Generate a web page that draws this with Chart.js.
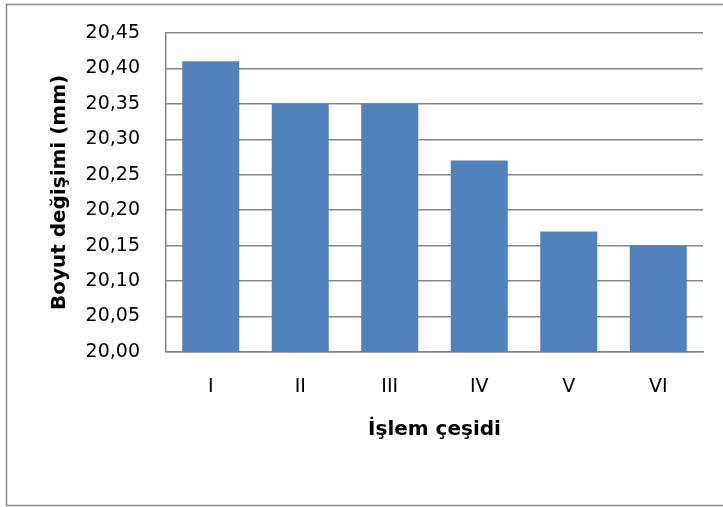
<!DOCTYPE html>
<html>
<head>
<meta charset="utf-8">
<script src="https://cdn.jsdelivr.net/npm/chart.js@4"></script>
<style>
  html, body { margin: 0; padding: 0; background: #fff; }
  #wrap { width: 723px; height: 507px; }
</style>
</head>
<body>
<div id="wrap"><canvas id="boyutChart" width="723" height="507"></canvas></div>
<script>
// Chart values
const categories = ['I', 'II', 'III', 'IV', 'V', 'VI'];
const boyutValues = [20.41, 20.35, 20.35, 20.27, 20.17, 20.15];
const yTicks = [20.00, 20.05, 20.10, 20.15, 20.20, 20.25, 20.30, 20.35, 20.40, 20.45];

const xTitle = 'İşlem çeşidi';
const yTitle = 'Boyut değişimi (mm)';

// outer frame like the Excel chart border (right side is cut off in the original)
const framePlugin = {
    id: 'frame',
    afterDraw(chart) {
        const ctx = chart.ctx;
        ctx.save();
        ctx.strokeStyle = '#868686';
        ctx.lineWidth = 1.5;
        ctx.beginPath();
        ctx.moveTo(chart.width + 2, 4.5);
        ctx.lineTo(6.5, 4.5);
        ctx.lineTo(6.5, 505.5);
        ctx.lineTo(chart.width + 2, 505.5);
        ctx.stroke();
        ctx.restore();
    }
};

const ctx = document.getElementById('boyutChart').getContext('2d');
new Chart(ctx, {
    type: 'bar',
    data: {
        labels: categories,
        datasets: [{
            label: 'Boyut değişimi',
            data: boyutValues,
            backgroundColor: '#4F81BD',
            borderWidth: 0,
            barPercentage: 0.637,
            categoryPercentage: 1.0
        }]
    },
    options: {
        responsive: false,
        animation: false,
        layout: {
            padding: { left: 0, top: 33, right: 20, bottom: 0 }
        },
        plugins: {
            legend: { display: false },
            tooltip: { enabled: false }
        },
        scales: {
            x: {
                grid: { display: false, drawTicks: false },
                border: { display: true, color: '#868686', width: 1.5 },
                ticks: {
                    color: '#000',
                    padding: 24,
                    font: { family: 'DejaVu Sans', size: 19 }
                },
                title: {
                    display: true,
                    text: xTitle,
                    color: '#000',
                    padding: { top: 0, bottom: 65 },
                    font: { family: 'DejaVu Sans', size: 20, weight: 'bold', lineHeight: 1.2 }
                },
                afterFit(scale) {
                    scale.height = 155;
                }
            },
            y: {
                min: 20.00,
                max: 20.45,
                afterBuildTicks(scale) {
                    scale.ticks = yTicks.map(v => ({ value: v }));
                },
                grid: { color: '#868686', lineWidth: 1.5, drawTicks: false },
                border: { display: true, color: '#868686', width: 1.5 },
                ticks: {
                    color: '#000',
                    padding: 26,
                    font: { family: 'DejaVu Sans', size: 19 },
                    callback: function(value) {
                        return Number(value).toFixed(2).replace('.', ','); // Turkish decimal comma
                    }
                },
                title: {
                    display: true,
                    text: yTitle,
                    color: '#000',
                    padding: { top: 48, bottom: 0 },
                    font: { family: 'DejaVu Sans', size: 20, weight: 'bold', lineHeight: 1.2 }
                },
                afterFit(scale) {
                    scale.width = 166;
                    // tick padding would otherwise push the plot top down
                    scale.paddingTop = 12;
                    scale.paddingBottom = 12;
                }
            }
        }
    },
    plugins: [framePlugin]
});
</script>
</body>
</html>
